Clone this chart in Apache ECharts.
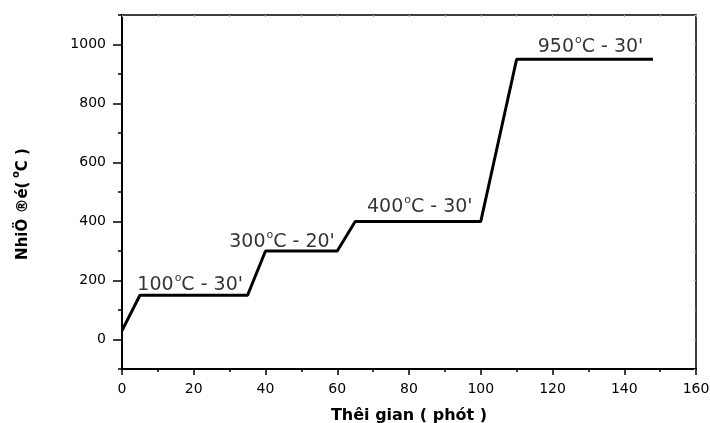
<!DOCTYPE html>
<html>
<head>
<meta charset="utf-8">
<script src="https://cdn.jsdelivr.net/npm/echarts@6/dist/echarts.min.js"></script>
<style>
  html, body { margin: 0; padding: 0; background: #fff; }
  #main { width: 710px; height: 423px; }
</style>
</head>
<body>
<div id="main"></div>
<script type="text/javascript">
    // thoi gian (phut) / nhiet do (oC)
    var timeData = [0, 5, 35, 40, 60, 65, 100, 110, 148];
    var tempData = [30, 150, 150, 300, 300, 400, 400, 950, 950];
    var xTicks = [0, 20, 40, 60, 80, 100, 120, 140, 160];
    var yTicks = [0, 200, 400, 600, 800, 1000];
    // nhan cac doan giu nhiet
    var noteTemp = ['100', '300', '400', '950'];
    var noteMin = ['30', '20', '30', '30'];
    var noteX = [19, 44.6, 83, 130.6];
    var noteY = [190, 336, 454, 997];

    var FONT = 'DejaVu Sans';
    var line = [];
    for (var i = 0; i < timeData.length; i++) {
        line.push([timeData[i], tempData[i]]);
    }
    var notes = [];
    for (var j = 0; j < noteTemp.length; j++) {
        notes.push({ value: [noteX[j], noteY[j]], t: noteTemp[j], m: noteMin[j] });
    }
    var supRich = {
        a: { fontFamily: FONT, fontSize: 19, color: '#000', lineHeight: 22, verticalAlign: 'bottom' },
        s: { fontFamily: FONT, fontSize: 11, color: '#000', lineHeight: 22, verticalAlign: 'top', padding: [0, 0, 0, 1] }
    };
    var plain = function (v) { return String(v); };

    var myChart = echarts.init(document.getElementById('main'));
    var option = {
        animation: false,
        grid: { left: 122, right: 14, top: 15, bottom: 54, containLabel: false, outerBoundsMode: 'none' },
        xAxis: [
            {
                type: 'value', min: 0, max: 160, interval: 20,
                splitLine: { show: false },
                axisLine: { onZero: false, lineStyle: { color: '#000', width: 2 } },
                axisTick: { length: 6, lineStyle: { color: '#000', width: 1.5 } },
                minorTick: { show: true, splitNumber: 2, length: 3, lineStyle: { color: '#000', width: 1.5 } },
                axisLabel: { margin: 13, fontFamily: FONT, fontSize: 14, color: '#000', formatter: plain },
                name: 'Thêi gian ( phót )',
                nameLocation: 'middle', nameGap: 39,
                nameTextStyle: { fontFamily: FONT, fontSize: 16, fontWeight: 'bold', color: '#000' }
            },
            {
                type: 'value', position: 'top', min: 0, max: 160, interval: 10,
                splitLine: { show: false },
                axisLine: { onZero: false, lineStyle: { color: '#000', width: 1.5 } },
                axisTick: { inside: true, length: 2, lineStyle: { color: '#aaa' } },
                axisLabel: { show: false }
            }
        ],
        yAxis: [
            {
                type: 'value', min: -100, max: 1100,
                splitLine: { show: false },
                axisLine: { onZero: false, lineStyle: { color: '#000', width: 2 } },
                axisTick: { customValues: yTicks, length: 9, lineStyle: { color: '#000', width: 1.5 } },
                axisLabel: { customValues: yTicks, margin: 16, fontFamily: FONT, fontSize: 14, color: '#000', formatter: plain }
            },
            {
                type: 'value', position: 'left', min: -100, max: 1100, interval: 100,
                splitLine: { show: false },
                axisLine: { show: false, onZero: false },
                axisTick: { length: 4, lineStyle: { color: '#000', width: 1.5 } },
                axisLabel: { show: false }
            },
            {
                type: 'value', position: 'right', min: -100, max: 1100, interval: 100,
                splitLine: { show: false },
                axisLine: { onZero: false, lineStyle: { color: '#000', width: 1.5 } },
                axisTick: { inside: true, length: 2, lineStyle: { color: '#aaa' } },
                axisLabel: { show: false }
            }
        ],
        graphic: [
            {
                type: 'text', x: 21, y: 204, rotation: Math.PI / 2,
                style: {
                    text: '{b|NhiÖ ®é(}{s| o}{b|C )}',
                    align: 'center', verticalAlign: 'middle',
                    rich: {
                        b: { fontFamily: FONT, fontSize: 15, fontWeight: 'bold', fill: '#000', lineHeight: 20, verticalAlign: 'bottom' },
                        s: { fontFamily: FONT, fontSize: 10, fontWeight: 'bold', fill: '#000', lineHeight: 20, verticalAlign: 'top' }
                    }
                }
            }
        ],
        series: [
            {
                type: 'line',
                data: line,
                symbol: 'none',
                lineStyle: { color: '#000', width: 3 },
                z: 3
            },
            {
                type: 'scatter',
                data: notes,
                symbolSize: 0,
                label: {
                    show: true, position: 'inside', color: '#000', textBorderWidth: 0,
                    formatter: function (p) {
                        return '{a|' + p.data.t + '}{s|o}{a|C - ' + p.data.m + '\'}';
                    },
                    rich: supRich
                }
            }
        ]
    };
    myChart.setOption(option);
</script>
</body>
</html>
